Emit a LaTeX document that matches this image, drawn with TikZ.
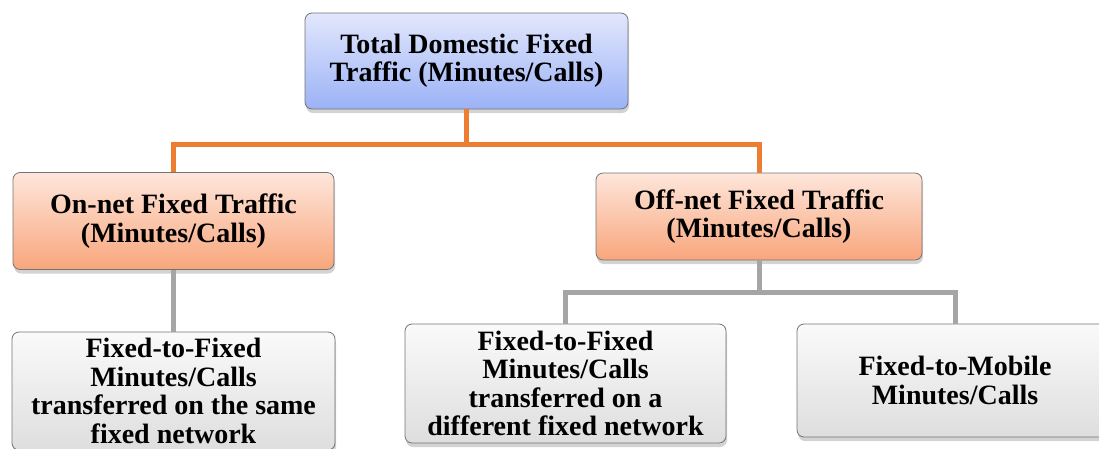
\documentclass[tikz,border=0pt]{standalone}
\usepackage{fontspec}
\setmainfont{Liberation Serif}[BoldFont={Liberation Serif Bold}]
\usetikzlibrary{shadows,calc}

\definecolor{bluetop}{HTML}{E2E7FC}
\definecolor{bluebot}{HTML}{9BB2F6}
\definecolor{orgtop}{HTML}{FEE6DB}
\definecolor{orgbot}{HTML}{F8A67C}
\definecolor{greytop}{HTML}{FAFAFA}
\definecolor{greybot}{HTML}{DEDEDE}
\definecolor{orgline}{HTML}{ED7D31}
\definecolor{greyline}{HTML}{A5A5A5}

\begin{document}
\begin{tikzpicture}[x=1pt, y=-1pt,
    basebox/.style={draw=gray!90!black, line width=0.8pt, rounded corners=7pt, align=center,
      font=\fontsize{28}{28.5}\selectfont\bfseries, inner sep=2pt,
      drop shadow={shadow xshift=1pt, shadow yshift=-4pt, opacity=0.35, fill=gray}},
    topbox/.style={basebox, top color=bluetop, bottom color=bluebot},
    midbox/.style={basebox, top color=orgtop, bottom color=orgbot},
    leafbox/.style={basebox, top color=greytop, bottom color=greybot},
    orgpath/.style={draw=orgline, line width=5pt},
    greypath/.style={draw=greyline, line width=5pt}
  ]
    \useasboundingbox (0,0) rectangle (1099,448);

    \node[topbox, minimum width=323pt, minimum height=96pt] (total) at (466.5,61) {Total Domestic Fixed\\Traffic (Minutes/Calls)};

    \node[midbox, minimum width=321pt, minimum height=97pt] (onnet) at (173.5,221) {On-net Fixed Traffic\\(Minutes/Calls)};
    \node[midbox, minimum width=326pt, minimum height=87pt] (offnet) at (759,216.5) {Off-net Fixed Traffic\\(Minutes/Calls)};

    \node[leafbox, minimum width=323pt, minimum height=118pt] (samenet) at (173.5,391) {Fixed-to-Fixed\\Minutes/Calls\\transferred on the same\\fixed network};
    \node[leafbox, minimum width=321pt, minimum height=119pt] (diffnet) at (565.5,383.5) {Fixed-to-Fixed\\Minutes/Calls\\transferred on a\\different fixed network};
    \node[leafbox, minimum width=316pt, minimum height=113pt] (mobile) at (955,380.5) {Fixed-to-Mobile\\Minutes/Calls};

    % connectors
    \coordinate (topbus) at (466.5,144);
    \coordinate (offbus) at (759,292);
    \draw[orgpath] (total.south) -- (topbus) -| (onnet.north);
    \draw[orgpath] (topbus) -| (offnet.north);
    \draw[greypath] (onnet.south) -- (samenet.north);
    \draw[greypath] (offnet.south) -- (offbus) -| (diffnet.north);
    \draw[greypath] (offbus) -| (mobile.north);
\end{tikzpicture}
\end{document}
